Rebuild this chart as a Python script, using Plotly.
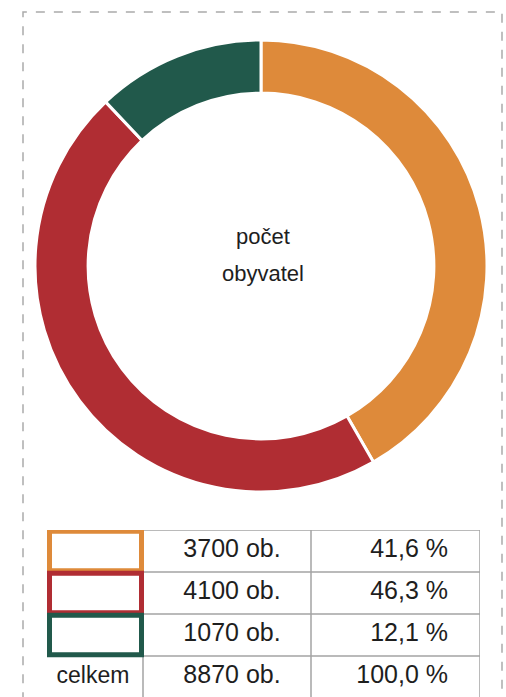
import plotly.graph_objects as go

# data
groups = ["A", "B", "C"]
population = [3700, 4100, 1070]
shares = [41.6, 46.3, 12.1]
total_population = 8870
total_share = 100.0
colors = ["#DE8A3A", "#B02D33", "#21594B"]
center_lines = ["počet", "obyvatel"]
total_label = "celkem"

W, H = 506, 697
FONT = "Liberation Sans, Arial, sans-serif"
TEXT = "#1e1e1e"
GRID = "#a3a3a3"


def px_x(x):
    return x / W


def px_y(y):
    return 1 - y / H


fig = go.Figure()

# donut
fig.add_trace(go.Pie(
    labels=groups, values=population, sort=False, direction="clockwise", rotation=0,
    hole=0.765, textinfo="none", hoverinfo="label+value+percent",
    marker=dict(colors=colors, line=dict(color="white", width=3)),
    domain=dict(x=[px_x(35), px_x(487)], y=[px_y(492), px_y(40)]),
    showlegend=False,
))

# table: columns in pixel units, rows in row units
col_edges = [0, 96, 264, 433]
n_rows = len(population) + 1
row_h = 42
tbl_top = 530

val_text = [f"{v} ob." for v in population] + [f"{total_population} ob."]
pct_text = [f"{s:.1f} %".replace(".", ",") for s in shares] + [f"{total_share:.1f} %".replace(".", ",")]
rows = list(range(n_rows))
yc = [r + 0.5 for r in rows]

fig.add_trace(go.Scatter(
    x=[(col_edges[1] + col_edges[2]) / 2 + 5] * n_rows, y=yc, text=val_text, mode="text",
    textfont=dict(family=FONT, size=25, color=TEXT), xaxis="x", yaxis="y",
    showlegend=False, hoverinfo="skip",
))
fig.add_trace(go.Scatter(
    x=[col_edges[3] - 32] * n_rows, y=yc, text=pct_text, mode="text", textposition="middle left",
    textfont=dict(family=FONT, size=25, color=TEXT), xaxis="x", yaxis="y",
    showlegend=False, hoverinfo="skip",
))
fig.add_trace(go.Scatter(
    x=[(col_edges[0] + col_edges[1]) / 2 - 2], y=[n_rows - 0.5], text=[total_label], mode="text",
    textfont=dict(family=FONT, size=23, color=TEXT), xaxis="x", yaxis="y",
    showlegend=False, hoverinfo="skip",
))

shapes = []
# grid lines
for r in range(n_rows):
    shapes.append(dict(type="line", xref="x", yref="y", x0=col_edges[1], x1=col_edges[3], y0=r, y1=r,
                       line=dict(color=GRID, width=1.5)))
for cx in col_edges[1:]:
    shapes.append(dict(type="line", xref="x", yref="y", x0=cx, x1=cx, y0=0, y1=n_rows + 0.2,
                       line=dict(color=GRID, width=1.5)))
# colour swatches
for r, c in enumerate(colors):
    shapes.append(dict(type="rect", xref="x", yref="y", x0=col_edges[0] + 2.5, x1=col_edges[1] - 1.5,
                       y0=r + 0.03, y1=r + 0.97, line=dict(color=c, width=5), fillcolor="white"))

# dashed outer frame
shapes.append(dict(type="rect", xref="paper", yref="paper", x0=px_x(23), x1=px_x(502),
                   y0=-0.05, y1=px_y(12), line=dict(color="#ababab", width=1.5, dash="dash"), layer="below"))

annotations = [
    dict(text=t, x=px_x(263), y=px_y(yy), xref="paper", yref="paper", showarrow=False,
         font=dict(family=FONT, size=22, color=TEXT))
    for t, yy in zip(center_lines, [236, 274])
]

fig.update_layout(
    width=W, height=H, margin=dict(l=0, r=0, t=0, b=0),
    paper_bgcolor="white", plot_bgcolor="rgba(0,0,0,0)",
    xaxis=dict(domain=[px_x(47), px_x(480)], range=[col_edges[0], col_edges[3]],
               visible=False, fixedrange=True),
    yaxis=dict(domain=[0, px_y(tbl_top)], range=[(H - tbl_top) / row_h, 0],
               visible=False, fixedrange=True),
    shapes=shapes, annotations=annotations,
)

fig.write_html("out.html", config={"displayModeBar": False},
               post_script="document.body.style.margin='0';document.body.style.overflow='hidden';")
